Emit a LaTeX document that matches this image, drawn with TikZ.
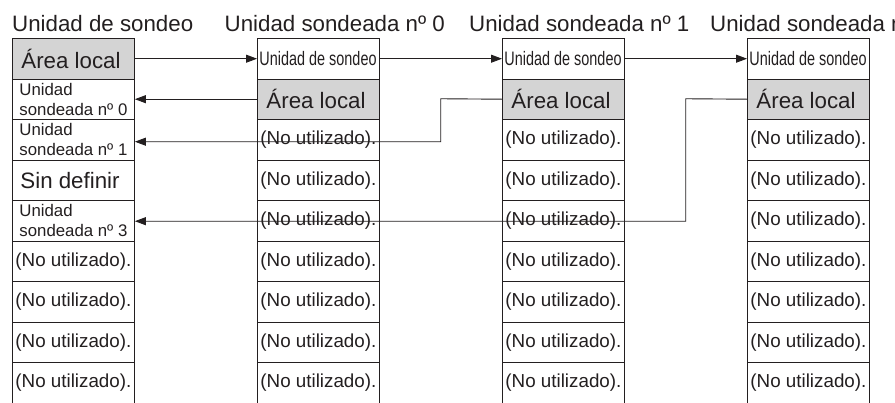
\documentclass[tikz,border=0pt]{standalone}
\usepackage{fontspec}
\setmainfont{Liberation Sans}
\newfontfamily\condfont[FakeStretch=0.74]{Liberation Sans}
\usetikzlibrary{arrows.meta}
\definecolor{cellgray}{RGB}{212,212,212}
\definecolor{ink}{RGB}{35,31,32}
\begin{document}
\begin{tikzpicture}[x=1pt,y=-1pt,
  cell/.style={draw=ink, line width=0.9pt, anchor=north west, minimum height=40.5pt,
    text width=116pt, inner xsep=3pt, inner ysep=0pt, align=flush left, text=ink,
    font=\fontsize{18.8}{22}\selectfont},
  bigtext/.style={font=\fontsize{22.3}{26}\selectfont, inner xsep=8pt, text width=106pt},
  shaded/.style={bigtext, fill=cellgray, inner xsep=9pt, text width=104pt},
  smalltext/.style={font=\fontsize{16.8}{19.7}\selectfont, inner xsep=7pt, text width=108pt},
  condtext/.style={font=\condfont\fontsize{19.5}{22}\selectfont, inner xsep=2pt, text width=118pt},
  header/.style={anchor=base west, inner sep=0pt, text=ink, font=\fontsize{22.3}{26}\selectfont},
  conn/.style={draw=ink, line width=0.9pt, -{Triangle[length=11pt,width=8pt]}}
]
\clip (0,0) rectangle (895,402);
\fill[white] (0,0) rectangle (895,402);

% headers
\node[header] (h0) at (12,31) {Unidad de sondeo};
\node[header] (h1) at (224.5,31) {Unidad sondeada nº 0};
\node[header] (h2) at (469,31) {Unidad sondeada nº 1};
\node[header] (h3) at (710,31) {Unidad sondeada nº 2};

% column 0 (Unidad de sondeo)
\node[cell, shaded]    (c0r1) at (12,38)    {Área~local};
\node[cell, smalltext] (c0r2) at (12,78.5)  {Unidad\\sondeada~nº~0};
\node[cell, smalltext] (c0r3) at (12,119)   {Unidad\\sondeada~nº~1};
\node[cell, bigtext]   (c0r4) at (12,159.5) {Sin~definir};
\node[cell, smalltext] (c0r5) at (12,200)   {Unidad\\sondeada~nº~3};
\foreach \r/\y in {6/240.5,7/281,8/321.5,9/362}
  \node[cell] (c0r\r) at (12,\y) {(No~utilizado).};

% columns 1-3 (Unidades sondeadas)
\foreach \c/\x in {1/257,2/502,3/747}{
  \node[cell, condtext] (c\c r1) at (\x,38)   {Unidad~de~sondeo};
  \node[cell, shaded]   (c\c r2) at (\x,78.5) {Área~local};
  \foreach \r/\y in {3/119,4/159.5,5/200,6/240.5,7/281,8/321.5,9/362}
    \node[cell] (c\c r\r) at (\x,\y) {(No~utilizado).};
}

% connectors
\draw[conn] (c0r1.east) -- (c1r1.west);
\draw[conn] (c1r1.east) -- (c2r1.west);
\draw[conn] (c2r1.east) -- (c3r1.west);
\draw[conn] (c1r2.west) -- (c0r2.east);
\coordinate (k1) at (440.7,98.75);
\coordinate (k2) at (685.7,98.75);
\draw[conn] (c2r2.west) -- (k1) |- ([yshift=-2pt]c0r3.east);
\draw[conn] (c3r2.west) -- (k2) |- ([yshift=-0.5pt]c0r5.east);
\end{tikzpicture}
\end{document}
